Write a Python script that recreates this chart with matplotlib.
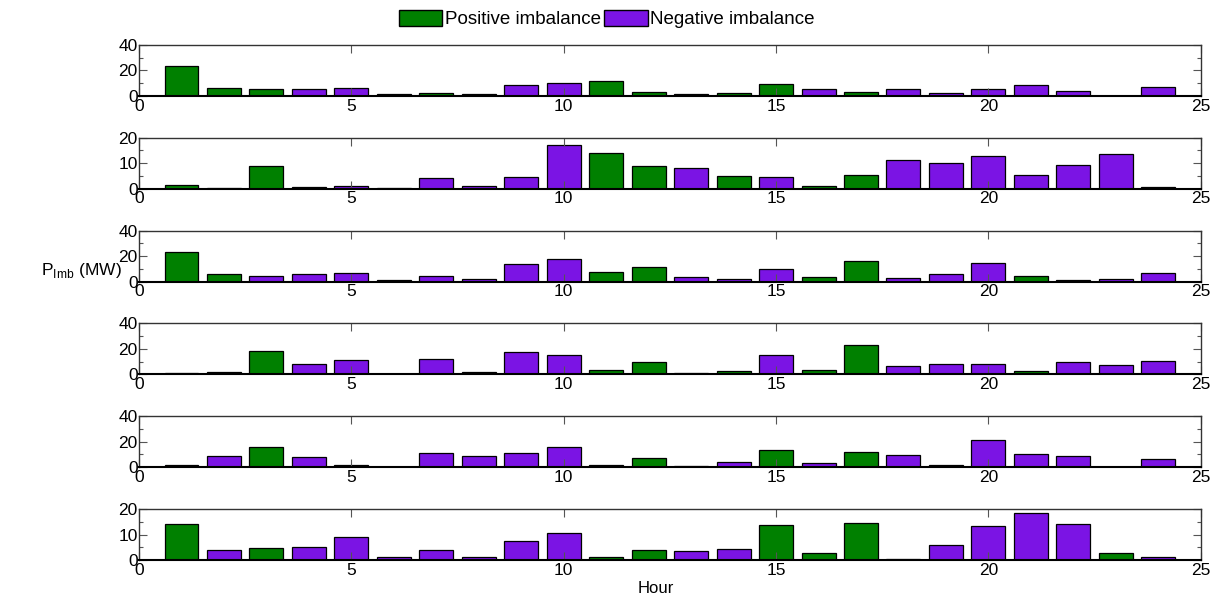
import numpy as np
import matplotlib.pyplot as plt
from matplotlib.patches import Patch

plt.rcParams['font.family'] = 'Liberation Sans'
plt.rcParams['mathtext.fontset'] = 'custom'
plt.rcParams['mathtext.rm'] = 'Liberation Sans'

hours = np.arange(1, 25)

# imbalance magnitudes (MW) per hour for the six cases
p1 = [23.2, 5.8, 5.0, 5.0, 5.8, 1.8, 2.4, 1.8, 8.9, 9.7, 11.3, 3.4,
      1.3, 2.4, 9.5, 5.0, 3.4, 5.0, 2.4, 5.0, 8.2, 3.9, 0.0, 6.6]
p2 = [1.6, 0.4, 9.0, 0.8, 1.2, 0.1, 4.1, 1.2, 4.5, 17.1, 14.0, 9.0,
      8.2, 4.9, 4.5, 1.2, 5.3, 11.4, 9.9, 12.7, 5.3, 9.4, 13.6, 0.8]
p3 = [23.0, 6.2, 4.6, 6.2, 7.0, 1.1, 4.6, 2.2, 13.5, 17.6, 7.8, 11.6,
      3.5, 1.9, 10.0, 3.5, 16.5, 2.7, 6.2, 14.3, 4.3, 1.1, 1.9, 7.0]
p4 = [1.1, 1.9, 18.5, 8.3, 11.3, 0.3, 12.1, 1.6, 17.7, 15.3, 3.2, 9.7,
      1.1, 2.4, 15.3, 3.2, 22.8, 6.7, 8.1, 8.1, 2.4, 9.7, 7.2, 10.5]
p5 = [1.9, 9.2, 15.9, 7.8, 1.9, 0.3, 11.1, 8.6, 10.8, 15.9, 1.9, 7.6,
      0.8, 4.3, 13.2, 3.5, 11.9, 9.5, 1.4, 21.6, 10.3, 8.9, 0.0, 6.2]
p6 = [14.3, 3.9, 4.6, 5.0, 8.9, 1.2, 3.9, 1.2, 7.4, 10.5, 1.2, 3.9,
      3.5, 4.3, 13.7, 2.7, 14.7, 0.4, 5.8, 13.2, 18.6, 14.3, 2.7, 1.4]

# sign of imbalance: 1 = positive (green), 0 = negative (purple)
s1 = [1, 1, 1, 0, 0, 0, 1, 0, 0, 0, 1, 1, 0, 1, 1, 0, 1, 0, 0, 0, 0, 0, 1, 0]
s2 = [1, 1, 1, 0, 0, 1, 0, 0, 0, 0, 1, 1, 0, 1, 0, 1, 1, 0, 0, 0, 0, 0, 0, 0]
s3 = [1, 1, 0, 0, 0, 1, 0, 0, 0, 0, 1, 1, 0, 0, 0, 1, 1, 0, 0, 0, 1, 1, 0, 0]
s4 = [1, 1, 1, 0, 0, 1, 0, 0, 0, 0, 1, 1, 0, 1, 0, 1, 1, 0, 0, 0, 1, 0, 0, 0]
s5 = [0, 0, 1, 0, 0, 1, 0, 0, 0, 0, 1, 1, 0, 0, 1, 0, 1, 0, 0, 0, 0, 0, 1, 0]
s6 = [1, 0, 1, 0, 0, 0, 0, 0, 0, 0, 1, 1, 0, 0, 1, 1, 1, 1, 0, 0, 0, 0, 1, 0]

ylims = [40, 20, 40, 40, 40, 20]

green = '#008000'
purple = '#7b14e4'

fig = plt.figure(figsize=(12.26, 5.99), dpi=100)
left, width, height = 0.1134, 0.866, 0.085
bottoms = [0.840, 0.685, 0.530, 0.375, 0.220, 0.065]

for i, (vals, signs, ymax) in enumerate(zip([p1, p2, p3, p4, p5, p6],
                                            [s1, s2, s3, s4, s5, s6], ylims)):
    ax = fig.add_axes([left, bottoms[i], width, height])
    cols = [green if s else purple for s in signs]
    ax.bar(hours, vals, width=0.8, color=cols, edgecolor='black', linewidth=0.9)
    ax.set_xlim(0, 25)
    ax.set_ylim(0, ymax)
    ax.set_xticks([0, 5, 10, 15, 20, 25])
    ax.set_yticks([0, ymax / 2, ymax])
    ax.set_yticklabels(['0', str(ymax // 2), str(ymax)])
    ax.set_yticks([ymax / 4, 3 * ymax / 4], minor=True)
    ax.tick_params(direction='in', top=True, right=True, labelsize=12.5,
                   length=6, width=0.8, color='#555555', pad=2)
    ax.tick_params(which='minor', direction='in', left=True, right=True,
                   length=3, width=0.8, color='#555555')
    ax.tick_params(axis='y', pad=1)
    for sp in ['top', 'right', 'left']:
        ax.spines[sp].set_color('#333333')
        ax.spines[sp].set_linewidth(1.0)
    ax.spines['bottom'].set_linewidth(1.5)

fig.text(0.535, 0.018, 'Hour', ha='center', va='center', fontsize=12)
fig.text(0.066, 0.548, r'P$_{\rm Imb}$ (MW)', ha='center', va='center', fontsize=12.5)

handles = [Patch(facecolor=green, edgecolor='black', label='Positive imbalance'),
           Patch(facecolor=purple, edgecolor='black', label='Negative imbalance')]
fig.legend(handles=handles, loc='upper center', bbox_to_anchor=(0.495, 1.012),
           ncol=2, frameon=False, fontsize=13.5, handlelength=2.3, handleheight=1.0,
           handletextpad=0.15, columnspacing=0.2)

fig.savefig('out.png', dpi=100)
